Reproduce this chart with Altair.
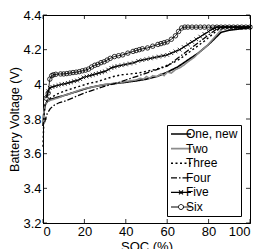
import altair as alt
import pandas as pd

series_names = ["One, new", "Two", "Three", "Four", "Five", "Six"]

one_soc = [0.0, 0.3, 0.7, 1.2, 2.0, 4.0, 7.0, 10.0, 14.0, 18.0, 22.0, 26.0, 30.0, 35.0, 40.0,
           45.0, 50.0, 55.0, 60.0, 65.0, 70.0, 75.0, 80.0, 83.0, 86.0, 90.0, 95.0, 100.0]
one_v = [3.76, 3.82, 3.86, 3.885, 3.90, 3.915, 3.925, 3.935, 3.95, 3.965, 3.98, 3.99, 3.998, 4.005, 4.012,
         4.02, 4.03, 4.045, 4.07, 4.10, 4.14, 4.18, 4.23, 4.265, 4.30, 4.312, 4.32, 4.327]

two_soc = [0.0, 0.4, 1.0, 2.0, 4.0, 7.0, 10.0, 14.0, 18.0, 22.0, 26.0, 30.0, 34.0, 38.0, 42.0, 45.0,
           47.0, 48.5, 50.0, 51.5, 53.0, 55.0, 57.0, 58.5, 60.0, 62.0, 64.0, 66.0, 68.0, 70.0, 73.0,
           76.0, 79.0, 82.0, 85.0, 87.0, 89.0, 100.0]
two_v = [3.78, 3.84, 3.88, 3.90, 3.91, 3.92, 3.935, 3.95, 3.968, 3.98, 3.99, 4.0, 4.005, 4.012, 4.02, 4.025,
         4.035, 4.03, 4.045, 4.035, 4.05, 4.045, 4.06, 4.05, 4.07, 4.065, 4.085, 4.095, 4.11, 4.13, 4.155,
         4.19, 4.22, 4.26, 4.30, 4.325, 4.33, 4.33]

three_soc = [0.0, 0.2, 0.5, 1.0, 2.0, 4.0, 7.0, 10.0, 14.0, 18.0, 22.0, 26.0, 30.0, 34.0, 38.0, 42.0,
             46.0, 50.0, 54.0, 58.0, 62.0, 66.0, 70.0, 74.0, 78.0, 82.0, 85.0, 87.0, 100.0]
three_v = [3.64, 3.72, 3.82, 3.88, 3.905, 3.925, 3.945, 3.96, 3.975, 3.99, 4.005, 4.015, 4.03, 4.045, 4.055, 4.06,
           4.065, 4.075, 4.085, 4.10, 4.12, 4.145, 4.18, 4.215, 4.25, 4.29, 4.32, 4.33, 4.33]

four_soc = [0.8, 1.2, 2.0, 3.5, 5.5, 8.0, 11.0, 15.0, 20.0, 25.0, 30.0, 35.0, 40.0, 45.0, 50.0, 55.0,
            60.0, 65.0, 70.0, 75.0, 80.0, 84.0, 86.0, 100.0]
four_v = [3.78, 3.80, 3.83, 3.86, 3.88, 3.895, 3.905, 3.925, 3.95, 3.97, 3.99, 4.005, 4.025, 4.045, 4.065, 4.085,
          4.105, 4.15, 4.195, 4.24, 4.285, 4.32, 4.33, 4.33]

five_soc = [1.8, 2.5, 3.3, 4.5, 6.0, 7.5, 9.0, 10.5, 12.0, 13.5, 15.0, 16.5, 18.0, 19.5, 21.0, 22.5,
            24.0, 25.5, 27.0, 28.5, 30.0, 31.5, 33.0, 34.5, 36.0, 38.0, 40.0, 42.0, 44.0, 46.0, 48.0,
            50.0, 52.0, 54.0, 56.0, 58.0, 60.0, 62.0, 64.0, 66.0, 68.0, 70.0, 72.0, 74.0, 76.0, 78.0,
            80.0, 82.0, 84.0, 86.0, 88.0, 90.0, 92.0, 94.0, 96.0, 98.0, 100.0]
five_v = [3.93, 3.96, 3.98, 3.985, 3.99, 3.995, 4.0, 4.003, 4.008, 4.012, 4.018, 4.022, 4.03, 4.04, 4.045, 4.05,
          4.055, 4.06, 4.065, 4.07, 4.075, 4.085, 4.095, 4.10, 4.105, 4.11, 4.115, 4.12, 4.125, 4.135, 4.14,
          4.145, 4.15, 4.155, 4.16, 4.165, 4.17, 4.18, 4.19, 4.20, 4.215, 4.23, 4.245, 4.26, 4.275, 4.29,
          4.305, 4.32, 4.33, 4.33, 4.33, 4.33, 4.33, 4.33, 4.33, 4.33, 4.33]

six_soc = [1.5, 2.5, 3.3, 4.2, 5.0, 6.2, 8.5, 10.0, 11.5, 13.0, 14.5, 16.0, 17.5, 19.0, 20.5, 22.0,
           23.5, 25.0, 26.5, 28.0, 29.5, 31.0, 32.5, 34.5, 36.5, 38.5, 41.0, 43.5, 45.0, 46.5, 48.0,
           50.5, 53.0, 55.5, 57.0, 58.5, 60.0, 62.0, 64.0, 65.5, 67.0, 68.5, 70.0, 72.0, 74.0, 76.0,
           78.0, 80.0, 82.0, 84.0, 86.0, 88.0, 90.0, 92.0, 94.0, 96.0, 98.0, 100.0]
six_v = [3.92, 3.95, 4.03, 4.05, 4.055, 4.058, 4.06, 4.06, 4.062, 4.065, 4.068, 4.07, 4.073, 4.078, 4.082, 4.088,
         4.10, 4.11, 4.115, 4.125, 4.13, 4.14, 4.15, 4.16, 4.165, 4.17, 4.18, 4.19, 4.195, 4.20, 4.205,
         4.21, 4.22, 4.23, 4.235, 4.24, 4.245, 4.26, 4.28, 4.305, 4.325, 4.33, 4.33, 4.33, 4.33, 4.33,
         4.33, 4.33, 4.33, 4.33, 4.33, 4.33, 4.33, 4.33, 4.33, 4.33, 4.33, 4.33]

x_ticks = [0, 20, 40, 60, 80, 100]
y_ticks = [3.2, 3.4, 3.6, 3.8, 4.0, 4.2, 4.4]

all_series = [(series_names[0], one_soc, one_v), (series_names[1], two_soc, two_v),
              (series_names[2], three_soc, three_v), (series_names[3], four_soc, four_v),
              (series_names[4], five_soc, five_v), (series_names[5], six_soc, six_v)]
rows = []
for name, socs, vs in all_series:
    for i, (s, v) in enumerate(zip(socs, vs)):
        rows.append({"series": name, "soc": s, "v": v, "idx": i})
data = pd.DataFrame(rows)

W, H = 207, 208
FONT = "Liberation Sans"
X_TITLE = "SOC (%)"
Y_TITLE = "Battery Voltage (V)"
x_scale = alt.Scale(domain=[0, 100], nice=False, zero=False)
y_scale = alt.Scale(domain=[3.2, 4.4], nice=False, zero=False)

line_path = "M-1,0H3"
x_path = "M-1,0H3M0.6,-0.4L1.4,0.4M0.6,0.4L1.4,-0.4"
o_path = "M-1,0H0.5M1.5,0H3M1.5,0A0.5,0.5,0,1,1,0.5,0A0.5,0.5,0,1,1,1.5,0"
shape_expr = ("datum.value === 'Five' ? '%s' : (datum.value === 'Six' ? '%s' : '%s')"
              % (x_path, o_path, line_path))

leg = alt.Legend(orient="none", legendX=124, legendY=110, title=None,
                 symbolType={"expr": shape_expr}, symbolSize=100, symbolFillColor="transparent",
                 labelFont=FONT, labelFontSize=12, labelColor="black", labelOffset=4,
                 padding=3, rowPadding=2.6, strokeColor="black", fillColor="white")

colors = ["black", "#8c8c8c", "black", "black", "black", "black"]
dashes = [[1, 0], [1, 0], [2, 2.5], [6, 2, 1.5, 2], [1, 0], [1, 0]]
widths = [1.7, 1.0, 2.0, 1.0, 0.8, 0.8]

x_axis = alt.Axis(values=x_ticks, ticks=False, grid=False, domainColor="black",
                  labelFont=FONT, labelFontSize=13, labelColor="black", labelPadding=2,
                  titleFont=FONT, titleFontSize=13, titleColor="black", titleFontWeight="normal",
                  titlePadding=2)
y_axis = alt.Axis(values=y_ticks, format="~g", ticks=False, grid=False, domainColor="black",
                  labelFont=FONT, labelFontSize=13, labelColor="black", labelPadding=2,
                  titleFont=FONT, titleFontSize=12.5, titleColor="black", titleFontWeight="normal",
                  titlePadding=1)

X = alt.X("soc:Q", scale=x_scale, axis=x_axis, title=X_TITLE)
Y = alt.Y("v:Q", scale=y_scale, axis=y_axis, title=Y_TITLE)

base = alt.Chart(data)
lines = base.mark_line().encode(
    x=X, y=Y,
    color=alt.Color("series:N", scale=alt.Scale(domain=series_names, range=colors), legend=leg),
    strokeDash=alt.StrokeDash("series:N", scale=alt.Scale(domain=series_names, range=dashes), legend=leg),
    strokeWidth=alt.StrokeWidth("series:N", scale=alt.Scale(domain=series_names, range=widths), legend=leg),
    order=alt.Order("idx:Q"),
)

five_pts = base.transform_filter(alt.datum.series == "Five").mark_point(
    shape="M-1,-1L1,1M-1,1L1,-1", filled=False, size=14, strokeWidth=0.8, color="black", opacity=1
).encode(x=X, y=Y)

six_pts = base.transform_filter(alt.datum.series == "Six").mark_point(
    shape="circle", filled=False, size=20, strokeWidth=0.8, color="black", opacity=1
).encode(x=X, y=Y)

xt = pd.DataFrame({"soc": x_ticks})
yt = pd.DataFrame({"v": y_ticks})
tick_style = dict(color="black", strokeWidth=0.8)
xb = alt.Chart(xt).mark_rule(**tick_style).encode(x=X, y=alt.value(H), y2=alt.value(H - 4))
xtop = alt.Chart(xt).mark_rule(**tick_style).encode(x=X, y=alt.value(0), y2=alt.value(4))
yl = alt.Chart(yt).mark_rule(**tick_style).encode(y=Y, x=alt.value(0), x2=alt.value(4))
yr = alt.Chart(yt).mark_rule(**tick_style).encode(y=Y, x=alt.value(W), x2=alt.value(W - 4))

chart = alt.layer(lines, five_pts, six_pts, xb, xtop, yl, yr).properties(
    width=W, height=H,
    padding={"left": 35, "top": 7, "right": 8, "bottom": 30},
    autosize=alt.AutoSizeParams(type="none"),
    background="white",
).configure_view(stroke="black", strokeWidth=1)

chart.save("out.html", embed_options={"renderer": "svg", "actions": False})
